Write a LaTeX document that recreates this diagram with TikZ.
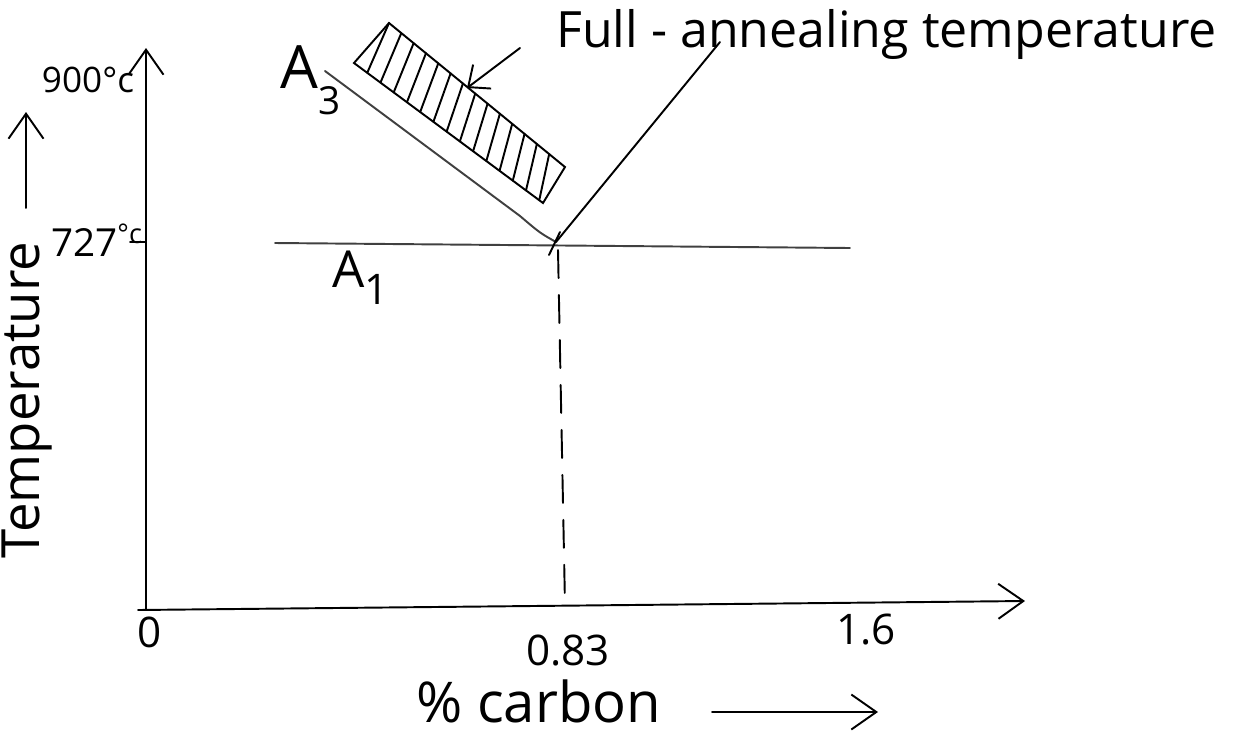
\documentclass[tikz,border=0pt]{standalone}
\usepackage{fontspec}
\setmainfont{Open Sans}
\usetikzlibrary{arrows.meta,calc}

\tikzset{
  pen/.style={line width=1.1pt, line cap=round},
  faint/.style={pen, black!75},
  barb/.style={-{Straight Barb[length=5mm,width=7mm]}},
  smallbarb/.style={-{Straight Barb[length=3.5mm,width=6mm]}},
  dashline/.style={pen, dash pattern=on 0.56cm off 0.34cm},
  lbl/.style={inner sep=0pt, font=\fontsize{24}{28}\selectfont},
  biglbl/.style={inner sep=0pt, font=\fontsize{30}{34}\selectfont},
}

\begin{document}
\begin{tikzpicture}[x=0.02cm, y=-0.02cm]
\useasboundingbox (0,0) rectangle (1241,735);

\coordinate (O) at (146,610);
\coordinate (Ytop) at (146,48);
\coordinate (Xstart) at (138,610);
\coordinate (Xend) at (1025,601);

\coordinate (E) at (556,242);
\coordinate (A1s) at (275,243);
\coordinate (A1e) at (850,248);
\coordinate (A3s) at (325,71);
\coordinate (A3k) at (520,216);
\coordinate (Acm) at (720,42);
\coordinate (Etop) at (558,250);
\coordinate (Ebot) at (565,605);
\coordinate (Ta) at (130,242);
\coordinate (Tb) at (146,242);

% hatched band
\coordinate (tl) at (389,23);
\coordinate (tr) at (565,167);
\coordinate (br) at (543,203);
\coordinate (bl) at (354,63);

\draw[pen, barb] (O) -- (Ytop);
\draw[pen, barb] (Xstart) -- (Xend);

\draw[faint] (A1s) -- (A1e);
\draw[faint] (A3s) -- (A3k) .. controls (540,233) .. (E);
\draw[pen] (E) -- (Acm);
\draw[pen] (549,255) -- (560,232);
\draw[dashline] (Etop) -- (Ebot);
\draw[pen] (Ta) -- (Tb);

\draw[pen] (tl) -- (tr) -- (br) -- (bl) -- cycle;
\foreach \i [evaluate=\i as \t using 0.07*\i,
             evaluate=\i as \s using 0.07*\i-0.07] in {1,...,14}
  \draw[pen] ($(bl)!\t!(br)$) -- ($(tl)!\s!(tr)$);

\node[biglbl, anchor=base west, font=\fontsize{28.5}{30}\selectfont] (full) at (556,47) {Full - annealing temperature};
\coordinate (arrS) at (520,48);
\coordinate (arrT) at (467,88);
\draw[pen, smallbarb] (arrS) -- (arrT);

\node[inner sep=0pt, anchor=base west, font=\fontsize{34}{34}\selectfont] (A3) at (280,88)
  {A\raisebox{-0.45em}{\fontsize{22}{22}\selectfont 3}};
\node[inner sep=0pt, anchor=base west, font=\fontsize{29}{29}\selectfont] (A1) at (332,287)
  {A\raisebox{-0.35em}{\fontsize{24}{24}\selectfont 1}};

\node[lbl, font=\fontsize{20}{24}\selectfont] (t900) at (88,80) {900°c};
\node[lbl, font=\fontsize{22}{26}\selectfont] (t727) at (97,240) {727\textsuperscript{°c}};
\node[lbl] (x0) at (150,632) {0};
\node[lbl] (x083) at (568,650) {0.83};
\node[lbl] (x16) at (866,630) {1.6};

\node[biglbl, rotate=90] (ylab) at (27,400) {Temperature};
\coordinate (yaS) at (26,208);
\coordinate (yaT) at (26,112);
\draw[pen, barb] (yaS) -- (yaT);

\node[biglbl, anchor=base west, font=\fontsize{32}{34}\selectfont] (xlab) at (416,722) {\% carbon};
\coordinate (xaS) at (712,712);
\coordinate (xaT) at (878,712);
\draw[pen, barb] (xaS) -- (xaT);

\end{tikzpicture}
\end{document}
